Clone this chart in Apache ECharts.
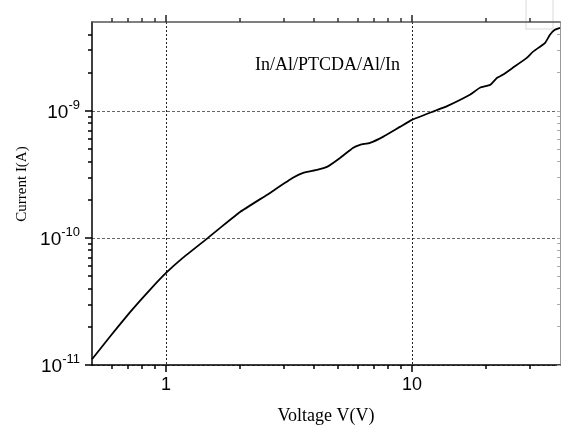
<!DOCTYPE html>
<html><head><meta charset="utf-8">
<script src="https://cdn.jsdelivr.net/npm/echarts@6/dist/echarts.min.js"></script>
<style>html,body{margin:0;padding:0;background:#fff}#c{width:561px;height:425px}</style>
</head><body><div id="c"></div>
<script>
// Data (log-log I-V curve)
const voltage = [0.5, 0.59, 0.71, 0.86, 1.0, 1.17, 1.48, 1.66, 2.0, 2.57, 3.28, 3.61, 4.11, 4.51, 5.1, 5.75, 6.15, 6.75, 7.62, 8.94, 10, 12.4, 13.9, 17.2, 18.9, 20.8, 22.2, 23.4, 25.7, 29.3, 31.0, 34.8, 36.4, 38.1, 40];
const current = [1.11e-11, 1.66e-11, 2.57e-11, 3.9e-11, 5.3e-11, 6.96e-11, 1.0e-10, 1.2e-10, 1.6e-10, 2.18e-10, 2.97e-10, 3.25e-10, 3.43e-10, 3.62e-10, 4.26e-10, 5.11e-10, 5.4e-10, 5.6e-10, 6.24e-10, 7.48e-10, 8.49e-10, 1.0e-9, 1.09e-9, 1.34e-9, 1.52e-9, 1.6e-9, 1.82e-9, 1.92e-9, 2.18e-9, 2.61e-9, 2.91e-9, 3.43e-9, 3.97e-9, 4.34e-9, 4.5e-9];
const xRange = [0.5, 40];
const yRange = [1e-11, 5e-9];
const xMajorTicks = [1, 10];
const xMinorTicks = [0.6, 0.7, 0.8, 0.9, 2, 3, 4, 5, 6, 7, 8, 9, 20, 30];
const yMajorTicks = [1e-11, 1e-10, 1e-9];
const yMinorTicks = [2e-11, 3e-11, 4e-11, 5e-11, 6e-11, 7e-11, 8e-11, 9e-11, 2e-10, 3e-10, 4e-10, 5e-10, 6e-10, 7e-10, 8e-10, 9e-10, 2e-9, 3e-9, 4e-9];
const xTitle = 'Voltage V(V)';
const yTitle = 'Current I(A)';
const annotation = 'In/Al/PTCDA/Al/In';

const lg = Math.log10;
const chart = echarts.init(document.getElementById('c'), null, {renderer: 'canvas'});
const serif = '"Liberation Serif", "Times New Roman", serif';
const sans = '"Liberation Sans", Arial, sans-serif';

const xBase = {type: 'value', min: lg(xRange[0]), max: lg(xRange[1]), gridIndex: 0};
const yBase = {type: 'value', min: lg(yRange[0]), max: lg(yRange[1]), gridIndex: 0};
const hidden = {axisLine: {show: false, onZero: false}, axisLabel: {show: false}, splitLine: {show: false}};

const option = {
  animation: false,
  grid: {left: 92, right: 1, top: 22, bottom: 60, containLabel: false, outerBoundsMode: 'none'},
  xAxis: [
    Object.assign({}, xBase, {
      position: 'bottom',
      name: xTitle, nameLocation: 'middle', nameGap: 42,
      nameTextStyle: {fontFamily: serif, fontSize: 18, color: '#000'},
      axisLine: {onZero: false, lineStyle: {color: '#000', width: 1.5}},
      axisTick: {customValues: xMajorTicks.map(lg), length: 7, lineStyle: {color: '#000', width: 1.5}},
      axisLabel: {customValues: xMajorTicks.map(lg), margin: 11, fontFamily: sans, fontSize: 18, color: '#000',
        formatter: v => String(Math.round(Math.pow(10, v)))},
      splitLine: {show: true, lineStyle: {color: '#222', type: [2, 2], width: 1}}
    }),
    Object.assign({}, xBase, hidden, {
      position: 'bottom',
      axisTick: {customValues: xMinorTicks.map(lg), length: 4, lineStyle: {color: '#000', width: 1.5}}
    }),
    Object.assign({}, xBase, hidden, {
      position: 'top',
      axisLine: {show: true, onZero: false, lineStyle: {color: '#555', width: 1.5}},
      axisTick: {customValues: xMajorTicks.map(lg), length: 7, lineStyle: {color: '#222', width: 1.5}}
    }),
    Object.assign({}, xBase, hidden, {
      position: 'top',
      axisTick: {customValues: xMinorTicks.map(lg), length: 4, lineStyle: {color: '#333', width: 1.5}}
    })
  ],
  yAxis: [
    Object.assign({}, yBase, {
      position: 'left',
      name: yTitle, nameLocation: 'middle', nameGap: 60,
      nameTextStyle: {fontFamily: serif, fontSize: 15, color: '#000', padding: [0, 0, 0, 19]},
      axisLine: {onZero: false, lineStyle: {color: '#000', width: 1.5}},
      axisTick: {customValues: yMajorTicks.map(lg), length: 7, lineStyle: {color: '#000', width: 1.5}},
      axisLabel: {customValues: yMajorTicks.map(lg), margin: 12, color: '#000',
        formatter: v => '{b|10}{s|' + Math.round(v) + '}',
        rich: {
          b: {fontFamily: sans, fontSize: 19, lineHeight: 24, padding: [4, 0, 0, 0], color: '#000'},
          s: {fontFamily: sans, fontSize: 13, lineHeight: 10, verticalAlign: 'top', color: '#000'}
        }},
      splitLine: {show: true, lineStyle: {color: '#666', type: [3, 2], width: 1}}
    }),
    Object.assign({}, yBase, hidden, {
      position: 'left',
      axisTick: {customValues: yMinorTicks.map(lg), length: 4, lineStyle: {color: '#000', width: 1.5}}
    }),
    Object.assign({}, yBase, hidden, {
      position: 'right',
      axisLine: {show: true, onZero: false, lineStyle: {color: '#999', width: 1}},
      axisTick: {inside: true, customValues: yMinorTicks.concat(yMajorTicks).map(lg), length: 3, lineStyle: {color: '#aaa', width: 1}}
    })
  ],
  graphic: [
    {type: 'text', left: 255, top: 56, style: {text: annotation, font: '18px ' + serif, fill: '#000'}},
    {type: 'rect', shape: {x: 526, y: -2, width: 27, height: 31}, style: {fill: 'none', stroke: '#ececec', lineWidth: 2}, z: -1}
  ],
  series: [{
    type: 'line',
    xAxisIndex: 0, yAxisIndex: 0,
    data: voltage.map((v, i) => [lg(v), lg(current[i])]),
    showSymbol: false,
    smooth: 0.12,
    clip: false,
    lineStyle: {color: '#000', width: 1.8}
  }]
};
chart.setOption(option);
</script>
</body></html>
